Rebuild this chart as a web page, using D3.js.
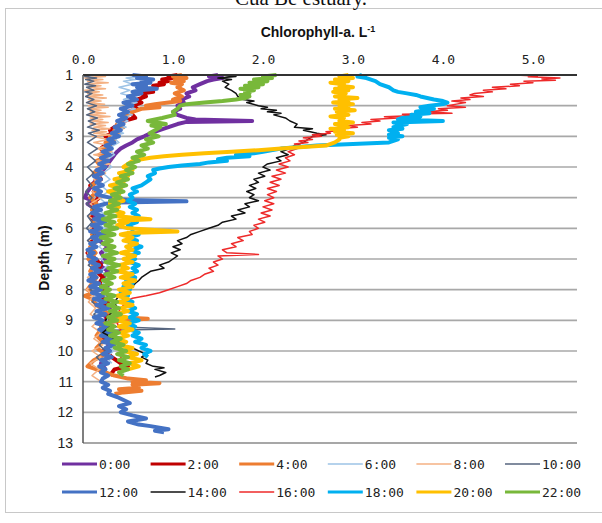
<!DOCTYPE html>
<html><head><meta charset="utf-8">
<script src="https://cdn.jsdelivr.net/npm/d3@7"></script>
<style>body{margin:0;background:#fff}svg{display:block}</style>
</head><body>
<svg id="c" width="602" height="523"></svg>
<script>
const xTicks = [0, 1, 2, 3, 4, 5];
const yTicks = [1,2,3,4,5,6,7,8,9,10,11,12,13];
const seriesNames = ["0:00","2:00","4:00","6:00","8:00","10:00","12:00","14:00","16:00","18:00","20:00","22:00"];
const seriesColors = ["#7030a0","#c00000","#ed7d31","#9dc3e6","#f4b183","#56657e","#4472c4","#111111","#ee2a2a","#00b0f0","#ffc000","#78b83a"];
const seriesWidths = [4,4,4,1.5,1.5,1.5,4,1.5,1.5,4,4,4];

// [depth (m), chlorophyll-a]
const s0000 = [[1.0,1.50],[1.05,1.40],[1.1,1.55],[1.15,1.45],[1.2,1.38],[1.3,1.30],[1.4,1.22],[1.5,1.25],[1.6,1.15],[1.7,1.18],[1.8,1.10],[1.9,1.12],[2.0,1.05],[2.1,1.08],[2.2,1.0],[2.3,1.05],[2.4,1.15],[2.45,1.25],[2.5,1.88],[2.53,1.15],[2.6,1.05],[2.7,0.95],[2.8,0.85],[2.9,0.75],[3.0,0.68],[3.1,0.60],[3.2,0.55],[3.3,0.48],[3.4,0.42],[3.5,0.38],[3.6,0.35],[3.8,0.30],[4.0,0.25],[4.2,0.20],[4.4,0.15],[4.6,0.10],[4.8,0.05],[5.0,0.02],[5.1,0.12],[5.2,0.05],[5.4,0.15],[5.6,0.10],[5.8,0.20],[6.0,0.15],[6.2,0.25],[6.4,0.18],[6.6,0.28],[6.8,0.20],[7.0,0.25],[7.2,0.18],[7.4,0.28],[7.6,0.22],[7.8,0.30],[8.0,0.22],[8.2,0.28],[8.4,0.20],[8.6,0.30],[8.8,0.22],[9.0,0.30],[9.2,0.25],[9.4,0.32],[9.6,0.25],[9.8,0.30],[10.0,0.22],[10.2,0.28],[10.4,0.20],[10.6,0.25]];
const s0200 = [[1.0,1.05],[1.05,0.95],[1.1,1.0],[1.15,0.88],[1.2,0.95],[1.25,0.85],[1.3,0.90],[1.35,0.78],[1.4,0.82],[1.5,0.72],[1.55,0.78],[1.6,0.65],[1.7,0.70],[1.8,0.60],[1.9,0.65],[2.0,0.55],[2.1,0.60],[2.2,0.50],[2.3,0.55],[2.4,0.58],[2.5,0.45],[2.6,0.40],[2.7,0.35],[2.8,0.30],[2.9,0.32],[3.0,0.25],[3.2,0.28],[3.4,0.20],[3.6,0.25],[3.8,0.18],[4.0,0.22],[4.2,0.15],[4.4,0.20],[4.6,0.08],[4.7,0.15],[4.8,0.12],[5.0,0.18],[5.2,0.10],[5.4,0.15],[5.6,0.08],[5.8,0.14],[6.0,0.10],[6.2,0.16],[6.4,0.08],[6.6,0.12],[6.8,0.05],[6.9,0.10],[7.0,0.14],[7.2,0.20],[7.4,0.15],[7.6,0.22],[7.8,0.18],[8.0,0.25],[8.2,0.20],[8.4,0.28],[8.6,0.22],[8.8,0.30],[9.0,0.25],[9.2,0.32],[9.4,0.28],[9.6,0.22],[9.8,0.30],[10.0,0.25],[10.2,0.32],[10.4,0.42],[10.5,0.50],[10.6,0.35],[10.8,0.30]];
const s0400 = [[1.0,1.10],[1.05,1.0],[1.1,1.15],[1.15,1.02],[1.2,1.12],[1.25,0.98],[1.3,1.10],[1.4,1.05],[1.5,1.12],[1.6,1.02],[1.7,1.10],[1.8,1.0],[1.85,1.08],[1.9,0.95],[1.95,0.80],[2.0,0.70],[2.05,0.85],[2.1,0.65],[2.2,0.55],[2.3,0.50],[2.4,0.45],[2.5,0.42],[2.6,0.38],[2.7,0.45],[2.8,0.35],[2.9,0.40],[3.0,0.30],[3.1,0.35],[3.2,0.25],[3.3,0.30],[3.4,0.20],[3.5,0.26],[3.6,0.18],[3.7,0.24],[3.8,0.15],[4.0,0.20],[4.2,0.12],[4.4,0.18],[4.6,0.10],[4.8,0.16],[5.0,0.08],[5.2,0.15],[5.4,0.10],[5.6,0.18],[5.8,0.12],[6.0,0.20],[6.2,0.10],[6.4,0.16],[6.6,0.08],[6.8,0.14],[7.0,0.06],[7.2,0.12],[7.4,0.08],[7.6,0.15],[7.8,0.10],[8.0,0.05],[8.1,0.12],[8.2,0.02],[8.3,0.10],[8.5,0.15],[8.7,0.25],[8.9,0.40],[8.95,0.72],[9.0,0.45],[9.1,0.20],[9.3,0.20],[9.5,0.15],[9.7,0.22],[9.9,0.15],[10.1,0.25],[10.3,0.12],[10.5,0.05],[10.6,0.15],[10.7,0.25],[10.8,0.35],[10.9,0.50],[10.95,0.70],[11.0,0.55],[11.05,0.85],[11.1,0.55],[11.2,0.62],[11.25,0.40],[11.3,0.65],[11.35,0.45],[11.4,0.35]];
const s0600 = [[1.0,0.50],[1.05,0.60],[1.1,0.48],[1.15,0.58],[1.2,0.45],[1.3,0.55],[1.4,0.40],[1.5,0.52],[1.6,0.42],[1.7,0.55],[1.8,0.45],[1.9,0.60],[2.0,0.48],[2.1,0.58],[2.2,0.45],[2.3,0.55],[2.4,0.42],[2.5,0.50],[2.6,0.38],[2.7,0.48],[2.8,0.35],[2.9,0.45],[3.0,0.32],[3.2,0.40],[3.4,0.28],[3.6,0.35],[3.8,0.25],[4.0,0.32],[4.2,0.22],[4.4,0.30],[4.6,0.20],[4.8,0.28],[5.0,0.18],[5.2,0.26],[5.4,0.18],[5.6,0.25],[5.8,0.15],[6.0,0.24],[6.2,0.16],[6.4,0.25],[6.6,0.18],[6.8,0.26],[7.0,0.20],[7.2,0.28],[7.4,0.20],[7.6,0.30],[7.8,0.22],[8.0,0.30],[8.2,0.24],[8.4,0.32],[8.6,0.25],[8.8,0.33],[9.0,0.26],[9.2,0.34],[9.4,0.28],[9.6,0.35],[9.8,0.28],[10.0,0.34],[10.2,0.26],[10.4,0.32]];
const s0800 = [[1.0,0.05],[1.05,0.25],[1.1,0.02],[1.15,0.22],[1.2,0.05],[1.25,0.28],[1.3,0.03],[1.35,0.20],[1.4,0.06],[1.45,0.25],[1.5,0.02],[1.55,0.18],[1.6,0.05],[1.65,0.22],[1.7,0.03],[1.75,0.26],[1.8,0.06],[1.85,0.20],[1.9,0.04],[1.95,0.24],[2.0,0.06],[2.05,0.28],[2.1,0.05],[2.15,0.20],[2.2,0.08],[2.25,0.25],[2.3,0.05],[2.35,0.30],[2.4,0.08],[2.45,0.22],[2.5,0.10],[2.55,0.28],[2.6,0.08],[2.65,0.25],[2.7,0.12],[2.75,0.30],[2.8,0.10],[2.85,0.26],[2.9,0.12],[2.95,0.32],[3.0,0.10],[3.1,0.28],[3.2,0.12],[3.3,0.30],[3.4,0.15],[3.5,0.32],[3.6,0.12],[3.7,0.28],[3.8,0.15],[3.9,0.30],[4.0,0.14],[4.2,0.25],[4.4,0.12],[4.6,0.22],[4.8,0.10],[5.0,0.20],[5.2,0.08],[5.4,0.18],[5.6,0.06],[5.8,0.16],[6.0,0.08],[6.2,0.18],[6.4,0.06],[6.6,0.15],[6.8,0.05],[7.0,0.14],[7.2,0.06],[7.4,0.16],[7.6,0.05],[7.8,0.12],[8.0,0.04],[8.2,0.12],[8.4,0.06],[8.6,0.14],[8.8,0.08],[9.0,0.18],[9.2,0.10],[9.4,0.20],[9.6,0.12],[9.8,0.22],[10.0,0.10],[10.2,0.20],[10.4,0.08],[10.6,0.18],[10.8,0.10],[11.0,0.20]];
const s1000 = [[1.0,0.10],[1.05,0.02],[1.1,0.15],[1.15,0.03],[1.2,0.12],[1.3,0.02],[1.35,0.14],[1.4,0.04],[1.5,0.12],[1.55,0.02],[1.6,0.10],[1.7,0.03],[1.8,0.12],[1.9,0.04],[2.0,0.15],[2.1,0.05],[2.2,0.13],[2.3,0.04],[2.4,0.16],[2.5,0.06],[2.6,0.14],[2.7,0.05],[2.8,0.18],[2.9,0.06],[3.0,0.15],[3.2,0.05],[3.4,0.16],[3.6,0.06],[3.8,0.14],[4.0,0.05],[4.2,0.12],[4.4,0.04],[4.6,0.10],[4.8,0.03],[5.0,0.10],[5.2,0.04],[5.4,0.12],[5.6,0.05],[5.8,0.10],[6.0,0.04],[6.2,0.12],[6.4,0.05],[6.6,0.14],[6.8,0.06],[7.0,0.12],[7.2,0.06],[7.4,0.14],[7.6,0.08],[7.8,0.16],[8.0,0.08],[8.2,0.18],[8.4,0.10],[8.6,0.20],[8.8,0.12],[9.0,0.22],[9.1,0.15],[9.2,0.30],[9.28,1.02],[9.32,0.30],[9.4,0.20],[9.6,0.26],[9.8,0.18],[10.0,0.25],[10.2,0.15],[10.4,0.22]];
const s1200 = [[1.0,0.55],[1.05,0.70],[1.1,0.60],[1.15,0.78],[1.2,0.65],[1.25,0.75],[1.3,0.55],[1.35,0.70],[1.4,0.60],[1.45,0.82],[1.5,0.62],[1.55,0.55],[1.6,0.65],[1.7,0.50],[1.8,0.60],[1.9,0.45],[2.0,0.55],[2.1,0.42],[2.2,0.50],[2.3,0.40],[2.4,0.48],[2.5,0.38],[2.6,0.45],[2.7,0.35],[2.8,0.42],[2.9,0.32],[3.0,0.40],[3.1,0.28],[3.2,0.35],[3.3,0.25],[3.4,0.32],[3.5,0.22],[3.6,0.30],[3.7,0.20],[3.8,0.28],[3.9,0.18],[4.0,0.25],[4.1,0.15],[4.2,0.22],[4.3,0.12],[4.4,0.20],[4.5,0.15],[4.6,0.22],[4.7,0.12],[4.8,0.20],[4.9,0.15],[5.0,0.30],[5.08,0.50],[5.12,1.15],[5.16,0.40],[5.2,0.25],[5.3,0.12],[5.4,0.20],[5.5,0.10],[5.6,0.22],[5.7,0.12],[5.8,0.25],[5.9,0.10],[6.0,0.20],[6.1,0.08],[6.2,0.22],[6.3,0.10],[6.4,0.18],[6.5,0.08],[6.6,0.15],[6.7,0.05],[6.8,0.12],[6.9,0.06],[7.0,0.15],[7.1,0.08],[7.2,0.18],[7.3,0.10],[7.4,0.20],[7.5,0.08],[7.6,0.15],[7.7,0.06],[7.8,0.18],[7.9,0.08],[8.0,0.20],[8.1,0.10],[8.2,0.22],[8.3,0.12],[8.4,0.25],[8.5,0.15],[8.6,0.28],[8.7,0.15],[8.8,0.25],[8.9,0.12],[9.0,0.22],[9.1,0.15],[9.2,0.28],[9.3,0.18],[9.4,0.30],[9.5,0.20],[9.6,0.32],[9.7,0.22],[9.8,0.35],[9.9,0.25],[10.0,0.30],[10.1,0.22],[10.2,0.32],[10.3,0.20],[10.4,0.28],[10.5,0.18],[10.6,0.25],[10.7,0.20],[10.8,0.28],[10.9,0.22],[11.0,0.20],[11.1,0.28],[11.2,0.22],[11.3,0.30],[11.4,0.28],[11.5,0.38],[11.6,0.45],[11.7,0.52],[11.8,0.40],[11.9,0.48],[12.0,0.42],[12.1,0.55],[12.2,0.70],[12.25,0.60],[12.3,0.50],[12.4,0.62],[12.45,0.75],[12.5,0.85],[12.55,0.95],[12.6,0.80],[12.65,0.90]];
const s1400 = [[1.0,1.55],[1.05,1.70],[1.1,1.50],[1.15,1.65],[1.2,1.55],[1.3,1.62],[1.4,1.58],[1.5,1.65],[1.6,1.70],[1.7,1.72],[1.8,1.78],[1.85,1.90],[1.9,1.82],[2.0,1.95],[2.05,2.05],[2.1,1.98],[2.15,2.15],[2.2,2.05],[2.25,2.20],[2.3,2.12],[2.4,2.25],[2.5,2.30],[2.6,2.38],[2.7,2.35],[2.75,2.55],[2.8,2.45],[2.9,2.60],[2.95,2.70],[3.0,2.55],[3.1,2.50],[3.2,2.45],[3.3,2.35],[3.4,2.30],[3.5,2.20],[3.6,2.28],[3.7,2.15],[3.8,2.20],[3.9,2.05],[4.0,2.00],[4.1,2.08],[4.2,1.95],[4.3,2.02],[4.4,1.90],[4.5,1.95],[4.6,1.85],[4.7,1.92],[4.8,1.82],[4.9,1.90],[5.0,1.85],[5.1,1.95],[5.2,1.80],[5.3,1.85],[5.4,1.72],[5.5,1.80],[5.6,1.65],[5.7,1.70],[5.8,1.55],[5.9,1.50],[6.0,1.40],[6.1,1.30],[6.2,1.20],[6.3,1.15],[6.4,1.05],[6.5,1.10],[6.6,1.00],[6.7,1.08],[6.8,0.98],[6.9,1.05],[7.0,1.00],[7.1,0.95],[7.2,0.85],[7.3,0.90],[7.4,0.75],[7.5,0.70],[7.6,0.65],[7.7,0.62],[7.8,0.58],[7.9,0.55],[8.0,0.52],[8.1,0.45],[8.2,0.40],[8.4,0.35],[8.6,0.38],[8.8,0.30],[9.0,0.25],[9.2,0.30],[9.4,0.22],[9.6,0.35],[9.8,0.45],[9.9,0.55],[10.0,0.62],[10.1,0.70],[10.2,0.65],[10.3,0.72],[10.4,0.70],[10.5,0.78],[10.55,0.90],[10.6,0.80],[10.7,0.92],[10.8,0.85],[10.85,0.80]];
const s1600 = [[1.0,4.80],[1.03,5.05],[1.06,4.95],[1.1,5.30],[1.13,5.10],[1.17,5.25],[1.2,4.90],[1.25,5.00],[1.3,4.75],[1.35,4.85],[1.4,4.55],[1.45,4.70],[1.5,4.45],[1.55,4.55],[1.6,4.35],[1.65,4.30],[1.7,4.45],[1.75,4.20],[1.8,4.30],[1.85,4.10],[1.9,4.25],[1.95,4.15],[2.0,4.05],[2.05,4.25],[2.1,3.95],[2.15,4.05],[2.2,3.80],[2.25,4.10],[2.28,3.55],[2.32,3.70],[2.36,3.35],[2.4,3.50],[2.45,3.20],[2.5,3.30],[2.55,3.10],[2.6,3.20],[2.65,2.95],[2.7,3.05],[2.75,2.80],[2.8,2.90],[2.85,2.70],[2.9,2.75],[2.95,2.55],[3.0,2.65],[3.05,2.45],[3.1,2.55],[3.15,2.40],[3.2,2.50],[3.25,2.35],[3.3,2.42],[3.35,2.30],[3.4,2.38],[3.5,2.28],[3.6,2.35],[3.7,2.25],[3.8,2.30],[3.9,2.18],[4.0,2.28],[4.1,2.15],[4.2,2.25],[4.3,2.10],[4.4,2.20],[4.5,2.08],[4.6,2.18],[4.7,2.05],[4.8,2.15],[4.9,2.05],[5.0,2.12],[5.1,2.02],[5.2,2.12],[5.3,2.00],[5.4,2.10],[5.5,1.98],[5.6,2.08],[5.7,1.95],[5.8,2.02],[5.9,1.90],[6.0,1.95],[6.1,1.85],[6.2,1.88],[6.3,1.72],[6.4,1.78],[6.5,1.65],[6.6,1.70],[6.7,1.55],[6.8,1.60],[6.85,1.95],[6.9,1.50],[7.0,1.55],[7.1,1.45],[7.2,1.50],[7.3,1.40],[7.4,1.45],[7.5,1.35],[7.6,1.30],[7.7,1.20],[7.8,1.15],[7.9,1.05],[8.0,0.95],[8.1,0.85],[8.2,0.70],[8.28,0.55],[8.35,0.50],[8.5,0.45],[8.7,0.40],[8.9,0.45],[9.1,0.38],[9.3,0.42],[9.5,0.36],[9.7,0.42],[9.9,0.38],[10.1,0.45],[10.3,0.40]];
const s1800 = [[1.0,3.10],[1.05,3.05],[1.1,3.15],[1.15,3.20],[1.2,3.25],[1.3,3.30],[1.4,3.40],[1.5,3.45],[1.55,3.50],[1.6,3.60],[1.65,3.70],[1.7,3.75],[1.8,3.90],[1.85,4.00],[1.9,4.05],[1.95,4.00],[2.0,3.85],[2.05,3.75],[2.1,3.90],[2.15,3.80],[2.2,3.70],[2.25,3.85],[2.3,3.65],[2.35,3.75],[2.4,3.55],[2.45,3.50],[2.5,4.00],[2.55,3.45],[2.6,3.60],[2.7,3.45],[2.75,3.55],[2.8,3.40],[2.9,3.50],[2.95,3.40],[3.0,3.55],[3.05,3.40],[3.1,3.50],[3.15,3.45],[3.2,3.40],[3.25,3.00],[3.3,2.60],[3.35,2.40],[3.4,2.20],[3.5,2.00],[3.55,1.90],[3.6,1.70],[3.65,1.85],[3.7,1.60],[3.75,1.50],[3.8,1.60],[3.85,1.40],[3.9,1.30],[3.95,1.10],[4.0,0.95],[4.05,0.85],[4.1,0.78],[4.2,0.80],[4.3,0.72],[4.4,0.75],[4.5,0.70],[4.6,0.65],[4.7,0.55],[4.8,0.60],[4.9,0.52],[5.0,0.55],[5.1,0.50],[5.2,0.58],[5.3,0.52],[5.4,0.60],[5.5,0.55],[5.6,0.62],[5.7,0.55],[5.8,0.60],[5.9,0.50],[6.0,0.55],[6.1,0.55],[6.2,0.62],[6.3,0.50],[6.4,0.60],[6.5,0.52],[6.6,0.65],[6.7,0.55],[6.8,0.62],[6.9,0.50],[7.0,0.58],[7.1,0.52],[7.2,0.62],[7.3,0.55],[7.4,0.60],[7.5,0.50],[7.6,0.58],[7.7,0.48],[7.8,0.55],[7.9,0.45],[8.0,0.52],[8.1,0.42],[8.2,0.50],[8.3,0.45],[8.4,0.55],[8.5,0.48],[8.6,0.58],[8.7,0.50],[8.8,0.60],[8.9,0.52],[9.0,0.62],[9.1,0.50],[9.2,0.58],[9.3,0.52],[9.4,0.62],[9.5,0.55],[9.6,0.65],[9.7,0.58],[9.8,0.70],[9.9,0.65],[10.0,0.75],[10.1,0.68],[10.2,0.72]];
const s2000 = [[1.0,2.95],[1.05,2.85],[1.1,3.00],[1.15,2.80],[1.2,2.95],[1.25,2.75],[1.3,2.90],[1.35,2.85],[1.4,3.00],[1.45,2.80],[1.5,2.95],[1.55,2.78],[1.6,2.92],[1.7,2.80],[1.75,3.05],[1.8,2.85],[1.85,2.95],[1.9,2.78],[1.95,3.00],[2.0,2.85],[2.05,2.95],[2.1,2.80],[2.15,3.02],[2.2,2.82],[2.3,2.95],[2.35,2.75],[2.4,2.90],[2.5,2.85],[2.55,3.00],[2.6,2.80],[2.7,2.95],[2.75,2.75],[2.8,2.90],[2.85,2.80],[2.9,3.00],[2.95,2.82],[3.0,2.95],[3.05,2.85],[3.1,2.85],[3.2,2.80],[3.3,2.70],[3.35,2.45],[3.4,2.20],[3.45,1.95],[3.5,1.65],[3.55,1.35],[3.6,1.10],[3.65,0.90],[3.7,0.75],[3.75,0.65],[3.8,0.55],[3.9,0.50],[4.0,0.45],[4.1,0.55],[4.2,0.40],[4.3,0.50],[4.4,0.35],[4.5,0.45],[4.6,0.30],[4.7,0.42],[4.8,0.28],[4.9,0.40],[5.0,0.35],[5.1,0.45],[5.2,0.30],[5.3,0.40],[5.4,0.32],[5.5,0.45],[5.6,0.35],[5.7,0.75],[5.75,0.40],[5.8,0.50],[5.9,0.38],[6.0,0.50],[6.1,1.05],[6.15,0.50],[6.2,0.42],[6.3,0.55],[6.4,0.45],[6.5,0.60],[6.6,0.48],[6.7,0.55],[6.8,0.42],[6.9,0.58],[7.0,0.45],[7.1,0.55],[7.2,0.40],[7.3,0.50],[7.4,0.38],[7.5,0.55],[7.6,0.42],[7.7,0.58],[7.8,0.45],[7.9,0.55],[8.0,0.40],[8.1,0.52],[8.2,0.38],[8.3,0.50],[8.4,0.40],[8.5,0.55],[8.6,0.42],[8.7,0.50],[8.8,0.35],[8.9,0.48],[9.0,0.38],[9.1,0.52],[9.2,0.40],[9.3,0.55],[9.4,0.42],[9.5,0.50],[9.6,0.38],[9.7,0.48],[9.8,0.40],[9.9,0.55],[10.0,0.45],[10.1,0.60],[10.2,0.50],[10.3,0.65],[10.4,0.52],[10.5,0.62],[10.6,0.50]];
const s2200 = [[1.0,2.15],[1.05,2.00],[1.1,2.10],[1.15,1.90],[1.2,2.05],[1.25,1.85],[1.3,2.00],[1.35,1.80],[1.4,1.95],[1.45,1.75],[1.5,1.90],[1.55,1.80],[1.6,1.85],[1.65,1.75],[1.7,1.85],[1.75,1.80],[1.8,1.70],[1.85,1.55],[1.9,1.35],[1.95,1.15],[2.0,1.08],[2.1,1.05],[2.2,1.00],[2.3,1.02],[2.4,0.88],[2.5,0.72],[2.55,0.82],[2.6,0.92],[2.65,0.76],[2.7,0.86],[2.8,0.80],[2.9,0.74],[3.0,0.84],[3.1,0.70],[3.2,0.78],[3.3,0.65],[3.4,0.72],[3.5,0.60],[3.6,0.68],[3.7,0.55],[3.8,0.62],[3.9,0.50],[4.0,0.58],[4.1,0.48],[4.2,0.55],[4.3,0.42],[4.4,0.50],[4.5,0.38],[4.6,0.48],[4.7,0.35],[4.8,0.45],[4.9,0.32],[5.0,0.42],[5.1,0.30],[5.2,0.40],[5.3,0.28],[5.4,0.38],[5.5,0.25],[5.6,0.36],[5.7,0.22],[5.8,0.35],[5.9,0.25],[6.0,0.38],[6.1,0.22],[6.2,0.35],[6.3,0.20],[6.4,0.32],[6.5,0.22],[6.6,0.35],[6.7,0.25],[6.8,0.38],[6.9,0.22],[7.0,0.35],[7.1,0.25],[7.2,0.40],[7.3,0.28],[7.4,0.38],[7.5,0.25],[7.6,0.35],[7.7,0.22],[7.8,0.32],[7.9,0.20],[8.0,0.30],[8.1,0.22],[8.2,0.35],[8.3,0.25],[8.4,0.38],[8.5,0.28],[8.6,0.40],[8.7,0.30],[8.8,0.42],[8.9,0.28],[9.0,0.38],[9.1,0.25],[9.2,0.35],[9.3,0.28],[9.4,0.40],[9.5,0.30],[9.6,0.42],[9.7,0.32],[9.8,0.45],[9.9,0.35],[10.0,0.48],[10.1,0.38],[10.2,0.50],[10.3,0.40],[10.4,0.52],[10.5,0.42],[10.6,0.50],[10.7,0.40],[10.8,0.45]];
const allSeries = [s0000,s0200,s0400,s0600,s0800,s1000,s1200,s1400,s1600,s1800,s2000,s2200];

const svg = d3.select("#c");
const x = d3.scaleLinear().domain([0, 5.49]).range([83, 577]);
const y = d3.scaleLinear().domain([1, 13]).range([75, 443]);

// outer frame and caption (cut off at the top edge, as in the source figure)
svg.append("rect").attr("x",5.5).attr("y",8.5).attr("width",640).attr("height",504)
  .attr("fill","none").attr("stroke","#c8c8c8").attr("stroke-width",1);
svg.append("text").attr("x",301).attr("y",5).attr("text-anchor","middle")
  .attr("font-family","Liberation Serif, serif").attr("font-size",21).attr("fill","#111")
  .text("Cua Be estuary.");

// title
const t = svg.append("text").attr("x",318).attr("y",37).attr("text-anchor","middle")
  .attr("font-family","Liberation Sans, Arial, sans-serif").attr("font-weight","bold").attr("font-size",14).attr("fill","#111");
t.append("tspan").text("Chlorophyll-a. L");
t.append("tspan").attr("font-size",9).attr("dy",-5).text("-1");

// gridlines
svg.append("g").selectAll("line").data(yTicks.filter(d => d > 1)).join("line")
  .attr("x1",83).attr("x2",577).attr("y1",d=>y(d)).attr("y2",d=>y(d))
  .attr("stroke",d => d===13 ? "#8a8a8a" : "#a8a8a8").attr("stroke-width",1.6);

// series
const line = d3.line().x(d => x(d[1])).y(d => y(d[0]));
svg.append("g").selectAll("path").data(allSeries).join("path")
  .attr("d", d => line(d)).attr("fill","none")
  .attr("stroke",(d,i)=>seriesColors[i]).attr("stroke-width",(d,i)=>seriesWidths[i])
  .attr("stroke-linejoin","round").attr("stroke-linecap","butt");

// top line and left axis
svg.append("line").attr("x1",83).attr("x2",577).attr("y1",y(1)).attr("y2",y(1)).attr("stroke","#333").attr("stroke-width",2);
svg.append("line").attr("x1",83).attr("x2",83).attr("y1",y(1)).attr("y2",y(13)).attr("stroke","#555").attr("stroke-width",1.5);

// axes
const xa = svg.append("g").attr("transform","translate(0,67)")
  .call(d3.axisTop(x).tickValues(xTicks).tickFormat(d3.format(".1f")).tickSize(0));
xa.select(".domain").remove();
xa.selectAll("text").attr("font-family","DejaVu Sans Mono, monospace").attr("font-size",13).attr("fill","#222");

const ya = svg.append("g").attr("transform","translate(76,0)")
  .call(d3.axisLeft(y).tickValues(yTicks).tickFormat(d3.format("d")).tickSize(0));
ya.select(".domain").remove();
ya.selectAll("text").attr("font-family","Liberation Sans, Arial, sans-serif").attr("font-size",14).attr("fill","#222");
ya.selectAll("line").remove();

svg.append("text").attr("transform","translate(49,258) rotate(-90)").attr("text-anchor","middle")
  .attr("font-family","Liberation Sans, Arial, sans-serif").attr("font-weight","bold").attr("font-size",14).attr("fill","#111")
  .text("Depth (m)");

// legend
const lg = svg.append("g").selectAll("g").data(seriesNames).join("g")
  .attr("transform",(d,i)=>`translate(${62 + (i%6)*88.6},${i<6 ? 464 : 492})`);
lg.append("line").attr("x1",0).attr("x2",35).attr("y1",0).attr("y2",0)
  .attr("stroke",(d,i)=>seriesColors[i]).attr("stroke-width",(d,i)=>seriesWidths[i] > 2 ? 3 : 1.5);
lg.append("text").attr("x",37).attr("y",5).attr("font-family","DejaVu Sans Mono, monospace").attr("font-size",13)
  .attr("fill","#222").text(d=>d);
</script>
</body></html>
